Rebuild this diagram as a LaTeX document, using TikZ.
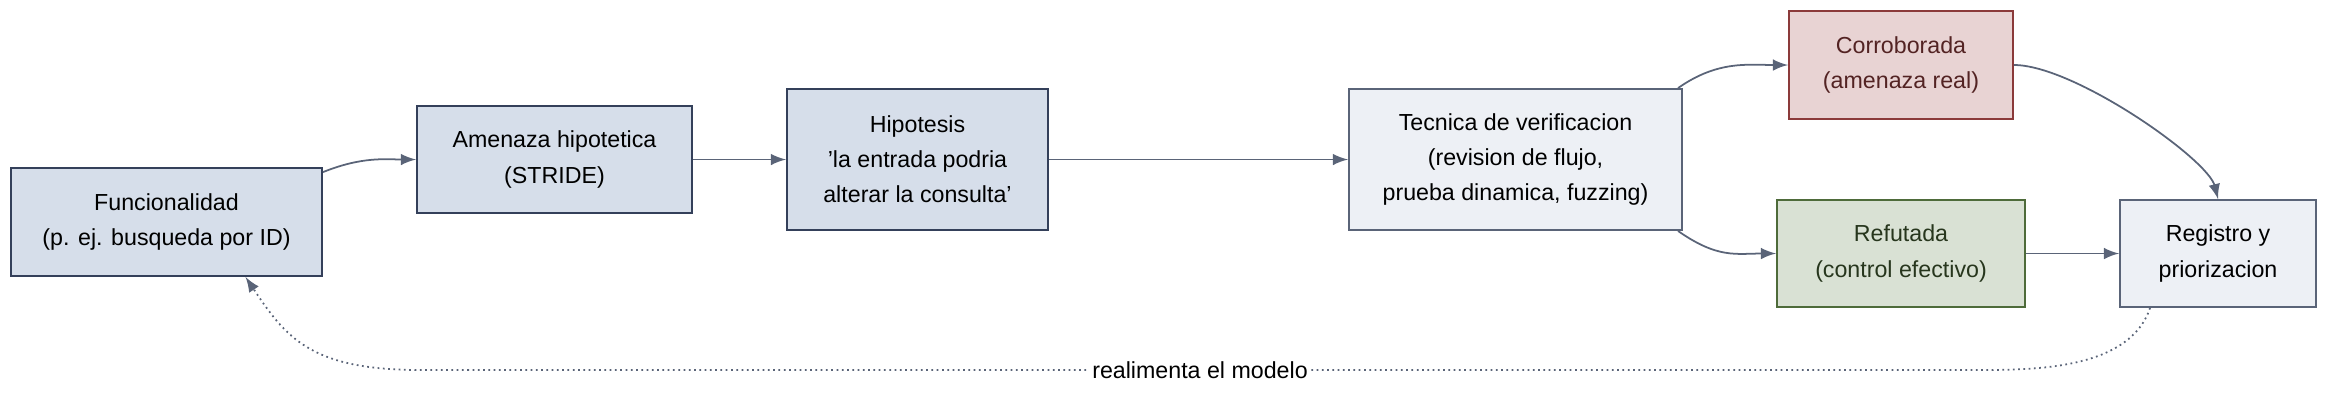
\documentclass[tikz,border=0pt]{standalone}
\usepackage{fontspec}
\setmainfont{Liberation Sans}
\usepackage{xcolor}
\usetikzlibrary{shapes.geometric, arrows, positioning}
\definecolor{hypfill}{HTML}{D6DEEA}
\definecolor{hypline}{HTML}{34405A}
\definecolor{chkfill}{HTML}{EDF0F5}
\definecolor{chkline}{HTML}{5A6478}
\definecolor{realfill}{HTML}{E8D3D3}
\definecolor{realline}{HTML}{8B3A3A}
\definecolor{okfill}{HTML}{D9E1D4}
\definecolor{okline}{HTML}{4E6B3A}
\definecolor{edge}{HTML}{5A6478}
\begin{document}
\begin{tikzpicture}[x=0.01cm, y=-0.01cm, font=\fontsize{6.6}{10}\selectfont]
    \tikzstyle{hyp} = [rectangle, draw=hypline, fill=hypfill, line width=0.5pt, align=center, inner sep=0pt]
    \tikzstyle{check} = [hyp, draw=chkline, fill=chkfill]
    \tikzstyle{flow} = [draw=edge, line width=0.5pt, -latex]
    \useasboundingbox (0,0) rectangle (2352,405);
    \node [hyp, minimum width=3.11cm, minimum height=1.08cm] (func) at (166.5,222) {Funcionalidad\\(p. ej. busqueda por ID)};
    \node [hyp, minimum width=2.75cm, minimum height=1.07cm] (amen) at (554.5,159.5) {Amenaza hipotetica\\(STRIDE)};
    \node [hyp, minimum width=2.61cm, minimum height=1.41cm] (hipo) at (917.5,159.5) {Hipotesis\\'la entrada podria\\alterar la consulta'};
    \node [check, minimum width=3.33cm, minimum height=1.41cm] (tec) at (1515.5,159.5) {Tecnica de verificacion\\(revision de flujo,\\prueba dinamica, fuzzing)};
    \node [hyp, draw=realline, fill=realfill, text=realline!60!black, minimum width=2.24cm, minimum height=1.08cm] (corr) at (1901,65) {Corroborada\\(amenaza real)};
    \node [hyp, draw=okline, fill=okfill, text=okline!50!black, minimum width=2.48cm, minimum height=1.07cm] (refu) at (1901,253.5) {Refutada\\(control efectivo)};
    \node [check, minimum width=1.96cm, minimum height=1.07cm] (reg) at (2218,253.5) {Registro y\\priorizacion};
    \coordinate (back) at ([shift={(79,0)}]func.south);
    \coordinate (loopa) at (1980,370);
    \coordinate (loopb) at (420,370);

    \draw [flow] ([shift={(0,5)}]func.north east) .. controls +(40,-16) and +(-30,0) .. (amen.west);
    \draw [flow] (amen) -- (hipo);
    \draw [flow] (hipo) -- (tec);
    \draw [flow] ([shift={(-5,0)}]tec.north east) .. controls +(40,-28) and +(-40,0) .. (corr.west);
    \draw [flow] ([shift={(-5,0)}]tec.south east) .. controls +(40,28) and +(-40,0) .. (refu.west);
    \draw [flow] (corr.east) .. controls +(60,0) and +(-10,-40) .. (reg.north);
    \draw [flow] (refu) -- (reg);
    \draw [flow, densely dotted] ([shift={(-68,0)}]reg.south) .. controls +(-20,60) and +(60,0) .. (loopa)
        -- node[fill=white, inner sep=1pt] {realimenta el modelo} (loopb)
        .. controls +(-110,0) and +(40,60) .. (back);
\end{tikzpicture}
\end{document}
